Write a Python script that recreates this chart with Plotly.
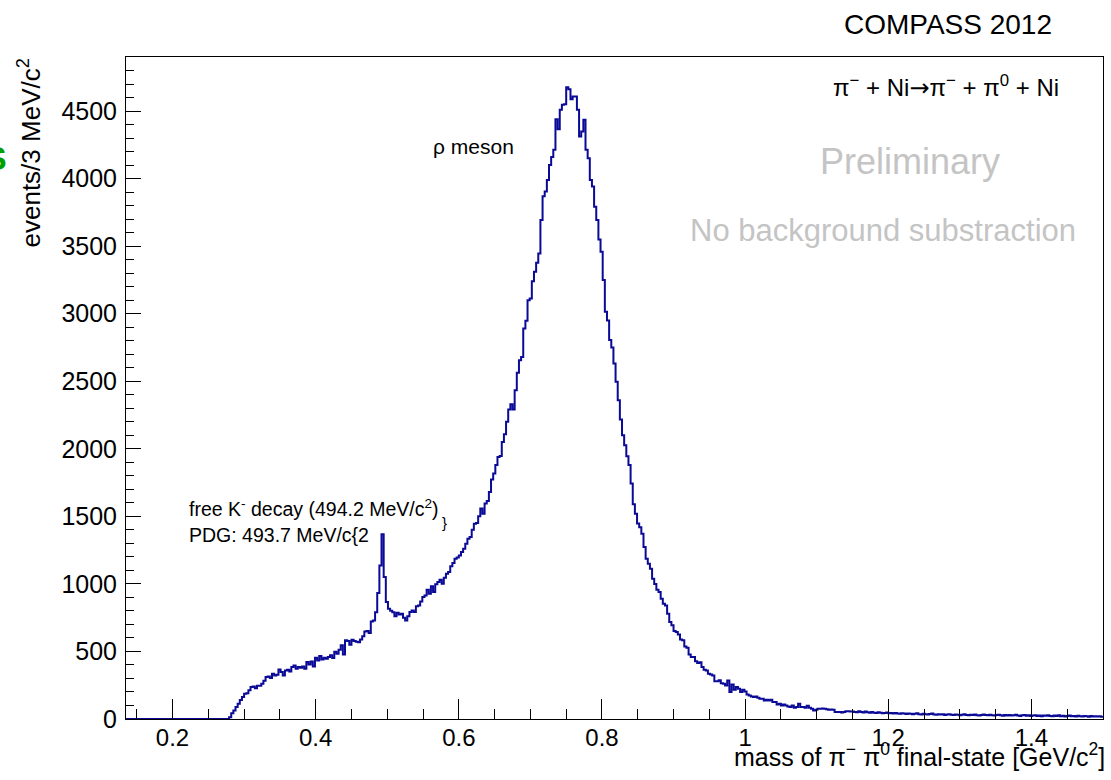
import numpy as np
import plotly.graph_objects as go

# histogram binning (GeV/c^2)
BIN_LOW = 0.135
BIN_WIDTH = 0.003

# events per 3 MeV bin
empty_low = [0, 0, 0, 0, 0, 0, 0, 0, 0, 0, 0, 0, 0, 0, 0, 0, 0, 0, 0, 0, 0, 0, 0, 0,
             0, 0, 0, 0, 0, 0, 0, 0, 0, 0, 0, 0, 0, 0, 0, 0, 0, 0, 0, 0, 0, 0, 0, 0]
threshold_to_kaon = [13, 43, 63, 88, 112, 140, 162, 186, 191, 212,
                     236, 241, 228, 246, 246, 261, 284, 310, 315, 303,
                     335, 322, 327, 367, 347, 322, 359, 364, 352, 384,
                     396, 372, 384, 379, 389, 372, 421, 404, 426, 389,
                     453, 433, 466, 441, 453, 446, 458, 471, 451, 498,
                     483, 513, 545, 478, 582, 577, 550, 587, 577, 572,
                     569, 589, 612, 648, 651, 636, 722, 730, 790, 932, 1137]
kaon_peak = [1367, 1051, 866, 816, 801, 790, 761, 786, 773]
rho_rise = [779, 750, 730, 760, 792, 804, 792, 834, 841, 870,
            903, 915, 957, 928, 982, 940, 997, 1014, 1031, 1002,
            1045, 1076, 1088, 1130, 1155, 1187, 1195, 1210, 1236, 1261,
            1298, 1335, 1347, 1400, 1446, 1451, 1501, 1558, 1520, 1595,
            1614, 1681, 1772, 1817, 1880, 1940, 1946, 2051, 2108, 2200,
            2291, 2330, 2291, 2434,
            2562, 2655, 2680, 2890, 2947, 3100, 3112, 3241, 3310, 3377, 3446, 3693]
rho_top = [3870, 3904, 3990, 4100, 4160, 4213, 4440, 4366, 4509, 4546,
           4550, 4677, 4662, 4588, 4607, 4607, 4509, 4311, 4348, 4435,
           4213, 4151, 3990, 3941, 3792, 3694]
rho_fall = [3550, 3459, 3249, 3015, 2950, 2805, 2750, 2632, 2496, 2360,
            2217, 2100, 2027, 1945, 1880, 1743, 1589, 1520, 1447, 1420,
            1372, 1273, 1187, 1150, 1113, 1039, 1000, 957]
rho_tail = [940, 890, 853, 840, 779, 718, 693, 651, 644, 626,
            589, 582, 537, 527, 478, 458, 458, 428, 414, 420,
            384, 364, 359, 335, 330, 322, 280, 280, 287, 265,
            261, 248, 285, 199, 256, 216, 236, 224, 199, 216,
            204, 182, 174, 167, 162, 167, 157, 150, 150, 137,
            142, 137, 142, 125, 125, 107, 112, 100, 107, 100,
            93, 88, 100, 83, 88, 112, 88, 88, 83, 98,
            83, 75, 63, 68, 75, 75, 77, 75, 73, 68,
            70, 68, 51, 51, 51, 48, 51, 58, 58, 56,
            55, 52, 50]
high_mass = [57, 52, 49, 55, 50, 47, 52, 46, 44, 50,
             47, 43, 45, 48, 42, 44, 40, 45, 41, 38,
             43, 40, 37, 41, 39, 35, 38, 42, 36, 34,
             38, 35, 33, 37, 40, 34, 31, 35, 33, 36,
             30, 33, 35, 31, 29, 34, 32, 28, 31, 35,
             30, 27, 32, 29, 33, 28, 26, 30, 34, 29,
             27, 31, 28, 25, 30, 32, 27, 24, 29, 26,
             30, 25, 28, 31, 26, 23, 27, 29, 24, 27,
             22, 26, 28, 23, 25, 21, 26, 24, 27, 22,
             20, 25, 23, 27, 21, 24, 19, 23, 25, 20,
             22, 18, 24, 21, 19, 23, 20, 17, 22, 19,
             21, 18, 20, 17]

counts = (empty_low + threshold_to_kaon + kaon_peak + rho_rise
          + rho_top + rho_fall + rho_tail + high_mass)

x_ticks = [0.2, 0.4, 0.6, 0.8, 1.0, 1.2, 1.4]
x_labels = ["0.2", "0.4", "0.6", "0.8", "1", "1.2", "1.4"]
y_ticks = [0, 500, 1000, 1500, 2000, 2500, 3000, 3500, 4000, 4500]

n = len(counts)
edges = np.round(BIN_LOW + BIN_WIDTH * np.arange(n + 1), 4)
x_step = list(edges)
y_step = counts + [counts[-1]]

FONT = "Liberation Sans, Arial, Helvetica, sans-serif"
W, H = 1111, 780
L, R, T, B = 126, 8, 57, 61


def px(xp):
    return (xp - L) / (W - L - R)


def py(yp):
    return (H - B - yp) / (H - T - B)


fig = go.Figure()
fig.add_trace(go.Scatter(
    x=x_step, y=y_step, mode="lines", line_shape="hv",
    line=dict(color="#0a0a96", width=2), hoverinfo="skip", showlegend=False,
))

axis_common = dict(
    showline=True, linecolor="black", linewidth=1, mirror=True, automargin=False,
    showgrid=False, zeroline=False, ticks="inside", tickcolor="black",
)
fig.update_xaxes(
    range=[BIN_LOW, BIN_LOW + BIN_WIDTH * n],
    tickvals=x_ticks, ticktext=x_labels,
    ticklen=20, tickwidth=1,
    tickfont=dict(family=FONT, size=24, color="black"), ticklabelstandoff=-3,
    minor=dict(ticks="inside", ticklen=10, tickcolor="black", dtick=0.05, tick0=0.0),
    **axis_common,
)
fig.update_yaxes(
    range=[0, 4900], tickvals=y_ticks, ticklen=15, tickwidth=1,
    tickfont=dict(family=FONT, size=25, color="black"), ticklabelstandoff=3,
    minor=dict(ticks="inside", ticklen=8, tickcolor="black", dtick=100),
    **axis_common,
)


def note(text, x, y, size, color="black", xanchor="left", yanchor="middle", **kw):
    fig.add_annotation(text=text, x=px(x), y=py(y), xref="paper", yref="paper",
                       showarrow=False, xanchor=xanchor, yanchor=yanchor,
                       font=dict(family=FONT, size=size, color=color), **kw)


ARROW = '<span style="font-family:DejaVu Sans">→</span>'
note("COMPASS 2012", 1054, 25, 28, xanchor="right")
note("π<sup>−</sup> + Ni" + ARROW + "π<sup>−</sup> + π<sup>0</sup> + Ni", 1061, 86, 24,
     xanchor="right")
note("Preliminary", 910, 162, 36, color="#c4c4c4", xanchor="center")
note("No background substraction", 883, 230, 31, color="#c4c4c4", xanchor="center")
note("ρ meson", 431, 146, 21)
note("free K<sup>-</sup> decay (494.2 MeV/c<sup>2</sup>)", 187, 508, 19.5)
note("}", 440, 522, 15)
note("PDG: 493.7 MeV/c{2", 187, 535, 19.5)
note("mass of π<sup>−</sup> π<sup>0</sup> final-state [GeV/c<sup>2</sup>]", 1107, 755, 25,
     xanchor="right")
note("events/3 MeV/c<sup>2</sup>", 30, 57, 26, xanchor="center", yanchor="top",
     textangle=-90)
note("<b>S</b>", 9, 158, 34, color="#00a000", xanchor="right")

fig.update_layout(
    width=W, height=H,
    margin=dict(l=L, r=R, t=T, b=B),
    paper_bgcolor="white", plot_bgcolor="white",
    font=dict(family=FONT, color="black"),
)

# the page body has a default 8px margin; drop it so the figure sits at the corner
fig.write_html("out.html", config={"displayModeBar": False},
               post_script="document.body.style.margin = '0';")
